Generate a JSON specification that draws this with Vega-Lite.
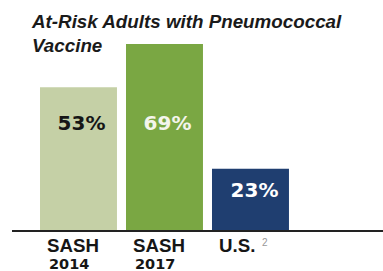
{
  "$schema": "https://vega.github.io/schema/vega-lite/v6.json",
  "width": 371,
  "height": 231,
  "autosize": {"type": "none"},
  "padding": {"left": 12, "top": 0, "right": 0, "bottom": 40},
  "background": "white",
  "config": {"view": {"stroke": null}},
  "title": {
    "text": ["At-Risk Adults with Pneumococcal", "Vaccine"],
    "anchor": "start",
    "frame": "group",
    "offset": -71,
    "baseline": "alphabetic",
    "dx": 20,
    "font": "Liberation Sans",
    "fontSize": 18.8,
    "fontStyle": "italic",
    "fontWeight": "bold",
    "color": "#1a1a1a",
    "lineHeight": 24
  },
  "data": {
    "values": [
      {"cat": "SASH 2014", "name": "SASH", "year": "2014", "sup": "", "value": 53},
      {"cat": "SASH 2017", "name": "SASH", "year": "2017", "sup": "", "value": 69},
      {"cat": "U.S.", "name": "U.S.", "year": "", "sup": "2", "value": 23}
    ]
  },
  "transform": [{"calculate": "datum.value + '%'", "as": "label"}],
  "layer": [
    {
      "mark": {"type": "bar"},
      "encoding": {
        "x": {"field": "cat", "type": "nominal", "axis": null,
          "scale": {"domain": ["SASH 2014", "SASH 2017", "U.S."], "paddingInner": 0.105, "paddingOuter": 0.7096, "align": 0.2295}},
        "y": {"field": "value", "type": "quantitative", "axis": null, "scale": {"domain": [0, 85.24], "nice": false}},
        "color": {"field": "cat", "type": "nominal", "legend": null,
          "scale": {"domain": ["SASH 2014", "SASH 2017", "U.S."], "range": ["#c5d0a6", "#7aa743", "#1f3e70"]}}
      }
    },
    {
      "data": {"values": [{}]},
      "mark": {"type": "rule", "color": "#222222", "strokeWidth": 2},
      "encoding": {"y": {"datum": 0, "type": "quantitative"}}
    },
    {
      "transform": [{"filter": "datum.value >= 50"}],
      "mark": {"type": "text", "font": "DejaVu Sans", "fontWeight": "bold", "fontSize": 20, "baseline": "alphabetic", "align": "center", "dx": 3},
      "encoding": {
        "x": {"field": "cat", "type": "nominal"},
        "y": {"datum": 37.3, "type": "quantitative"},
        "text": {"field": "label"},
        "color": {"condition": {"test": "datum.cat === 'SASH 2014'", "value": "#161616"}, "value": "#f4f5ec"}
      }
    },
    {
      "transform": [{"filter": "datum.value < 50"}],
      "mark": {"type": "text", "font": "DejaVu Sans", "fontWeight": "bold", "fontSize": 20, "baseline": "alphabetic", "align": "center", "dx": 4, "dy": 28, "color": "#ffffff"},
      "encoding": {
        "x": {"field": "cat", "type": "nominal"},
        "y": {"field": "value", "type": "quantitative"},
        "text": {"field": "label"}
      }
    },
    {
      "mark": {"type": "text", "font": "Liberation Sans", "fontWeight": "bold", "fontSize": 18.7, "baseline": "alphabetic", "align": "left", "dx": 7, "dy": 21, "color": "#161616"},
      "encoding": {
        "x": {"field": "cat", "type": "nominal", "bandPosition": 0},
        "y": {"datum": 0, "type": "quantitative"},
        "text": {"field": "name"}
      }
    },
    {
      "mark": {"type": "text", "font": "DejaVu Sans", "fontWeight": "bold", "fontSize": 14.5, "baseline": "alphabetic", "align": "left", "dx": 9, "dy": 38, "color": "#161616"},
      "encoding": {
        "x": {"field": "cat", "type": "nominal", "bandPosition": 0},
        "y": {"datum": 0, "type": "quantitative"},
        "text": {"field": "year"}
      }
    },
    {
      "transform": [{"filter": "datum.sup != ''"}],
      "mark": {"type": "text", "font": "Liberation Sans", "fontSize": 10, "baseline": "alphabetic", "align": "left", "dx": 50, "dy": 15, "color": "#999999"},
      "encoding": {
        "x": {"field": "cat", "type": "nominal", "bandPosition": 0},
        "y": {"datum": 0, "type": "quantitative"},
        "text": {"field": "sup"}
      }
    }
  ]
}
